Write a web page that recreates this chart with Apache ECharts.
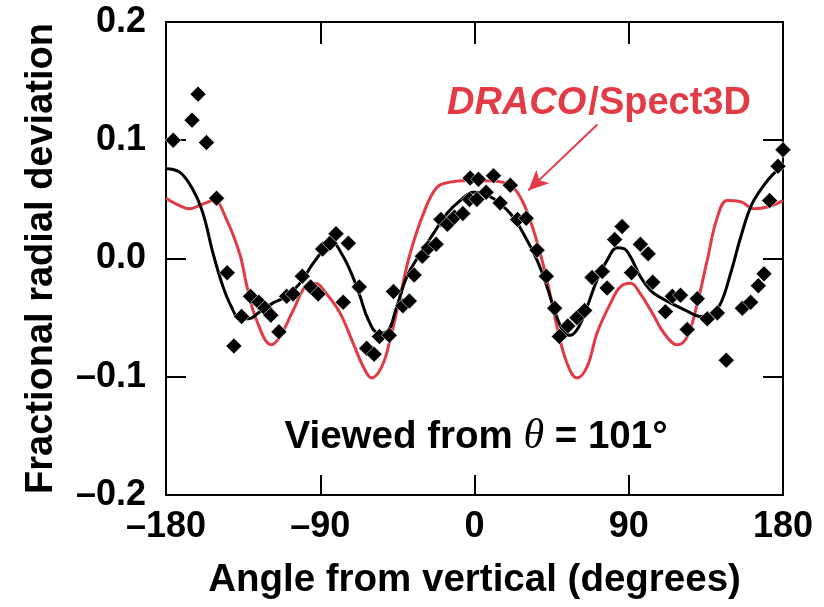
<!DOCTYPE html>
<html>
<head>
<meta charset="utf-8">
<script src="https://cdn.jsdelivr.net/npm/echarts@6/dist/echarts.min.js"></script>
<style>
  html, body { margin: 0; padding: 0; background: #fff; }
  #chart { width: 824px; height: 607px; }
</style>
</head>
<body>
<div id="chart"></div>
<script>
// measured points (diamonds)
var measDeg = [-175.8, -164.8, -161.3, -156.4, -150.5, -144.3, -140.4, -135.9, -130.7, -125.8,
  -122.3, -118.8, -114.1, -109.6, -105.8, -100.5, -95.6, -91.2, -88.6, -84.3,
  -80.8, -76.6, -73.6, -67.2, -62.9, -58.6, -55.5, -49.7, -47.3, -41.8,
  -38.0, -35.2, -30.4, -26.9, -22.4, -19.6, -15.8, -11.7, -6.8, -2.9,
  -2.5, 1.4, 2.3, 6.8, 11.1, 15.0, 20.9, 25.1, 30.2, 36.5,
  41.9, 46.8, 49.5, 54.4, 59.8, 64.3, 68.6, 74.5, 77.4, 81.8,
  86.1, 91.6, 96.8, 101.3, 104.0, 111.4, 115.4, 120.2, 124.1, 130.0,
  135.8, 141.7, 146.9, 156.3, 161.1, 165.6, 168.9, 172.2, 177.1, 180];
var measVal = [0.100, 0.117, 0.139, 0.098, 0.051, -0.012, -0.074, -0.049, -0.032, -0.037,
  -0.042, -0.048, -0.062, -0.032, -0.030, -0.015, -0.024, -0.030, 0.008, 0.013,
  0.021, -0.037, 0.013, -0.024, -0.076, -0.081, -0.066, -0.065, -0.028, -0.040,
  -0.036, -0.014, 0.002, 0.009, 0.012, 0.033, 0.029, 0.035, 0.038, 0.050,
  0.068, 0.050, 0.067, 0.056, 0.070, 0.047, 0.062, 0.033, 0.034, 0.007,
  -0.015, -0.042, -0.066, -0.057, -0.050, -0.044, -0.016, -0.011, -0.025, 0.016,
  0.027, -0.012, 0.012, 0.004, -0.020, -0.045, -0.032, -0.031, -0.060, -0.034,
  -0.051, -0.046, -0.086, -0.042, -0.037, -0.023, -0.013, 0.049, 0.078, 0.092];

// black fit curve
var fitDeg = [-180, -172, -164.2, -158.4, -152.5, -146.7, -141.8, -136.9, -132.1, -125.2,
  -117.5, -109.6, -101.9, -94.1, -86.3, -82.4, -77.5, -71.7, -66.8, -61.9,
  -56.1, -51.2, -45.4, -39.5, -31.7, -24.0, -16.1, -8.4, -0.6, 5.0,
  11.1, 20.9, 28.6, 36.5, 42.3, 47.2, 52.0, 55.9, 60.8, 65.7,
  71.5, 77.4, 83.2, 87.1, 91.0, 96.8, 102.7, 108.5, 116.3, 124.1,
  131.9, 137.7, 143.6, 149.4, 155.3, 161.1, 166.9, 174.7, 180];
var fitVal = [0.076, 0.073, 0.058, 0.038, 0.004, -0.024, -0.041, -0.051, -0.051, -0.045,
  -0.0375, -0.032, -0.021, -0.004, 0.010, 0.0127, 0.004, -0.013, -0.032, -0.052,
  -0.063, -0.062, -0.041, -0.0155, 0.004, 0.021, 0.038, 0.049, 0.056, 0.055,
  0.0506, 0.038, 0.021, -0.0014, -0.024, -0.046, -0.062, -0.065, -0.058, -0.041,
  -0.018, -0.0014, 0.009, 0.0084, 0.0014, -0.0155, -0.027, -0.033, -0.039, -0.0445,
  -0.049, -0.048, -0.038, -0.0127, 0.018, 0.0435, 0.058, 0.072, 0.077];

// red DRACO/Spect3D curve
var simDeg = [-180, -173.9, -166.1, -160.3, -152, -145, -137, -132.7, -127.2, -118.4,
  -113.5, -105.8, -97.9, -93.1, -86.3, -78.5, -70.7, -64.9, -60.0, -54.1,
  -49.3, -43.4, -37.6, -29.8, -22.0, -14.2, -4.4, 11.1, 20.9, 26.7,
  32.6, 38.4, 43.2, 48.2, 54.0, 59.8, 65.7, 71.5, 79.3, 85.1,
  91.0, 96.8, 103.7, 110.5, 118.3, 124.1, 130.0, 135.8, 141.7, 147.5,
  155.3, 163.0, 170.9, 180];
var simVal = [0.051, 0.046, 0.042, 0.045, 0.049, 0.034, 0.004, -0.024, -0.052, -0.073,
  -0.066, -0.044, -0.0225, -0.021, -0.030, -0.046, -0.072, -0.0915, -0.101, -0.0915,
  -0.069, -0.032, 0.004, 0.038, 0.060, 0.0646, 0.066, 0.0655, 0.062, 0.052,
  0.032, 0.004, -0.024, -0.058, -0.0886, -0.101, -0.0915, -0.063, -0.038, -0.024,
  -0.021, -0.030, -0.046, -0.063, -0.073, -0.066, -0.038, -0.0014, 0.035, 0.049,
  0.048, 0.042, 0.0435, 0.049];

var xTicks = [-180, -90, 0, 90, 180];
var xTickLabels = ['\u2013180', '\u201390', '0', '90', '180'];
var yTicks = [-0.2, -0.1, 0, 0.1, 0.2];
var yTickLabels = ['\u20130.2', '\u20130.1', '0.0', '0.1', '0.2'];

var arrowFrom = [71.7, 0.1133];
var arrowTo = [31.4, 0.0576];

var RED = '#e23b45';
var FONT = '"Liberation Sans", Arial, Helvetica, sans-serif';

function pairs(xs, ys) {
  return xs.map(function (x, i) { return [x, ys[i]]; });
}

var chart = echarts.init(document.getElementById('chart'), null, { renderer: 'canvas' });

var axisLineStyle = { color: '#000', width: 2 };

chart.setOption({
  animation: false,
  backgroundColor: '#fff',
  grid: { left: 166, right: 41, top: 22, bottom: 112 },
  xAxis: [{
    type: 'value', min: -180, max: 180, interval: 90, position: 'bottom',
    name: 'Angle from vertical (degrees)', nameLocation: 'middle', nameGap: 66,
    nameTextStyle: { fontFamily: FONT, fontWeight: 'bold', fontSize: 38.5, color: '#000' },
    axisLine: { onZero: false, lineStyle: axisLineStyle },
    axisTick: { inside: true, length: 20, lineStyle: axisLineStyle },
    axisLabel: {
      fontFamily: FONT, fontWeight: 'bold', fontSize: 36, color: '#000', margin: 14,
      formatter: function (v) { return xTickLabels[xTicks.indexOf(v)]; }
    },
    splitLine: { show: false }
  }, {
    type: 'value', min: -180, max: 180, interval: 90, position: 'top',
    axisLine: { onZero: false, lineStyle: axisLineStyle },
    axisTick: { inside: true, length: 22, lineStyle: axisLineStyle },
    axisLabel: { show: false },
    splitLine: { show: false }
  }],
  yAxis: [{
    type: 'value', min: -0.2, max: 0.2, interval: 0.1, position: 'left',
    name: 'Fractional radial deviation', nameLocation: 'middle', nameGap: 105, nameRotate: 90,
    nameTextStyle: { fontFamily: FONT, fontWeight: 'bold', fontSize: 38, color: '#000' },
    axisLine: { onZero: false, lineStyle: axisLineStyle },
    axisTick: { inside: true, length: 20, lineStyle: axisLineStyle },
    axisLabel: {
      fontFamily: FONT, fontWeight: 'bold', fontSize: 36, color: '#000', margin: 20,
      formatter: function (v) { return yTickLabels[Math.round(v * 10) + 2]; }
    },
    splitLine: { show: false }
  }, {
    type: 'value', min: -0.2, max: 0.2, interval: 0.1, position: 'right',
    axisLine: { onZero: false, lineStyle: axisLineStyle },
    axisTick: { inside: true, length: 20, lineStyle: axisLineStyle },
    axisLabel: { show: false },
    splitLine: { show: false }
  }],
  series: [{
    name: 'DRACO/Spect3D', type: 'line', smooth: 0.4, showSymbol: false, z: 2,
    data: pairs(simDeg, simVal),
    lineStyle: { color: RED, width: 3 },
    markLine: {
      silent: true, symbol: ['none', 'arrow'], symbolSize: [14, 20],
      label: { show: false },
      lineStyle: { color: RED, width: 2, type: 'solid' },
      data: [[{ coord: arrowFrom }, { coord: arrowTo }]]
    }
  }, {
    name: 'fit', type: 'line', smooth: 0.4, showSymbol: false, z: 3,
    data: pairs(fitDeg, fitVal),
    lineStyle: { color: '#000', width: 3 }
  }, {
    name: 'measured', type: 'scatter', symbol: 'diamond', symbolSize: 16, z: 5,
    data: pairs(measDeg, measVal),
    itemStyle: { color: '#000', opacity: 1, borderColor: '#fff', borderWidth: 0.6 }
  }],
  graphic: [{
    type: 'text', x: 447, y: 104, z: 10,
    style: {
      text: '{i|DRACO}{n|/Spect3D}',
      verticalAlign: 'middle', align: 'left',
      rich: {
        i: { fontFamily: FONT, fontWeight: 'bold', fontStyle: 'italic', fontSize: 38, fill: RED, color: RED },
        n: { fontFamily: FONT, fontWeight: 'bold', fontSize: 38, fill: RED, color: RED, padding: [0, 0, 0, 2] }
      }
    }
  }, {
    type: 'text', x: 476, y: 437, z: 10,
    style: {
      text: '{b|Viewed from }{t|\u03b8}{b| = 101\u00b0}',
      verticalAlign: 'middle', align: 'center',
      rich: {
        b: { fontFamily: FONT, fontWeight: 'bold', fontSize: 38.5, fill: '#000', color: '#000' },
        t: { fontFamily: '"Liberation Serif", "DejaVu Serif", serif', fontStyle: 'italic', fontSize: 42, fill: '#000', color: '#000' }
      }
    }
  }]
});
</script>
</body>
</html>
